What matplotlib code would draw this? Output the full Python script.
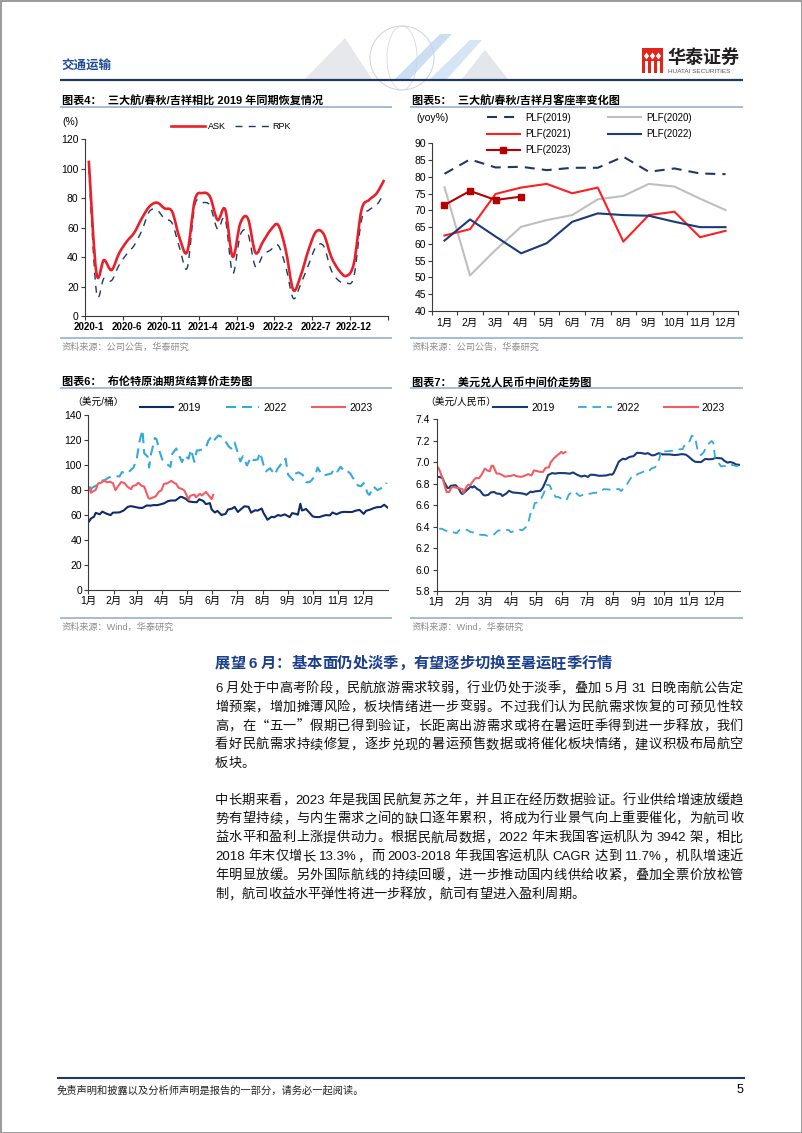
import re
import numpy as np
import pandas as pd
import matplotlib
matplotlib.use('Agg')
import matplotlib.pyplot as plt
from matplotlib.path import Path
from matplotlib.patches import PathPatch, Rectangle, Polygon, Circle, Ellipse
from matplotlib.lines import Line2D

W, H = 802, 1133
plt.rcParams['font.family'] = ['Liberation Sans', 'Noto Sans CJK SC']
CJK = ['Noto Sans CJK SC']

# ---------------- data ----------------
# chart 4: recovery vs 2019 (%), monthly 2020-1 .. 2023-4
c4_ticklabels = ['2020-1', '2020-6', '2020-11', '2021-4', '2021-9', '2022-2', '2022-7', '2022-12']
ask = [105.5, 29.4, 38, 31.2, 42.6, 50.5, 56.6, 66.3, 74.3, 77, 73.1, 70.9, 52.7, 43.7, 78.8, 83.5,
       81, 65.2, 72.4, 40.3, 63, 66.3, 43, 50.5, 58.4, 61.8, 44.8, 17.7, 27.8, 44.8, 57.3, 55.7,
       40.3, 31.2, 27.2, 35.8, 72, 78.8, 83.3, 92.4]
rpk = [101, 16.5, 25.6, 24, 34.6, 42, 48, 58, 71, 72, 66, 63, 46, 32.8, 75.4, 77,
       75, 59, 66, 29, 55, 56, 33.5, 41.4, 44.8, 48, 33.5, 12, 22, 34.6, 47, 47.5,
       31.2, 24, 22.2, 26.7, 65.2, 72, 75.4, 83.3]

# chart 5: passenger load factor by month
months = ['1月', '2月', '3月', '4月', '5月', '6月', '7月', '8月', '9月', '10月', '11月', '12月']
plf2019 = [80.9, 85.2, 82.8, 83.0, 82.0, 82.7, 82.7, 86.0, 81.5, 82.5, 81.0, 80.8]
plf2020 = [76.9, 50.6, 58.2, 65.1, 67.1, 68.6, 73.3, 74.3, 77.9, 77.1, 73.5, 70.1]
plf2021 = [62.5, 64.4, 74.9, 76.8, 77.9, 75.1, 76.8, 60.7, 68.6, 69.6, 62.0, 63.9]
plf2022 = [61.0, 67.3, 62.2, 57.2, 60.2, 66.6, 69.1, 68.6, 68.4, 66.6, 65.0, 65.0]
plf2023 = [71.6, 75.8, 73.1, 74.1]

# chart 6: Brent settlement (USD/bbl)
brent19_d = ['01-02', '01-04', '01-08', '01-10', '01-15', '01-18', '01-23', '01-28', '01-31', '02-05',
             '02-08', '02-13', '02-18', '02-22', '02-27', '03-04', '03-08', '03-13', '03-18', '03-21',
             '03-26', '03-29', '04-03', '04-08', '04-12', '04-17', '04-23', '04-25', '04-30', '05-03',
             '05-08', '05-13', '05-16', '05-21', '05-24', '05-29', '05-31', '06-04', '06-07', '06-12',
             '06-17', '06-20', '06-25', '06-28', '07-02', '07-05', '07-10', '07-15', '07-18', '07-23',
             '07-26', '07-31', '08-02', '08-07', '08-12', '08-15', '08-20', '08-23', '08-28', '09-03',
             '09-06', '09-11', '09-13', '09-16', '09-18', '09-23', '09-27', '10-01', '10-04', '10-09',
             '10-14', '10-17', '10-22', '10-25', '10-30', '11-04', '11-08', '11-13', '11-18', '11-22',
             '11-27', '12-02', '12-05', '12-10', '12-13', '12-18', '12-23', '12-27', '12-31']
brent19 = [54.9, 57.1, 58.7, 61.7, 60.6, 62.7, 61.1, 59.9, 61.9, 62.0,
           62.1, 63.6, 66.5, 67.1, 66.4, 65.7, 65.7, 67.6, 67.5, 67.9,
           67.9, 68.4, 69.3, 71.1, 71.6, 71.6, 74.5, 74.4, 72.8, 70.9,
           70.4, 70.2, 72.6, 71.2, 68.7, 69.5, 64.5, 62.0, 63.3, 60.0,
           60.9, 64.4, 65.1, 66.5, 62.4, 64.2, 67.0, 66.5, 61.9, 63.8,
           63.5, 65.2, 61.9, 56.2, 58.6, 58.2, 60.0, 59.3, 60.5, 58.3,
           61.5, 60.8, 60.2, 69.0, 63.6, 64.8, 61.9, 58.9, 58.4, 58.3,
           59.4, 59.9, 59.7, 62.0, 60.6, 62.1, 62.5, 62.4, 62.4, 63.4,
           64.1, 60.9, 63.4, 64.3, 65.2, 66.2, 66.4, 68.2, 66.0]
brent22_d = ['01-03', '01-06', '01-11', '01-14', '01-18', '01-21', '01-26', '01-31', '02-03', '02-08',
             '02-11', '02-15', '02-18', '02-23', '02-25', '03-01', '03-04', '03-08', '03-10', '03-14',
             '03-16', '03-18', '03-23', '03-25', '03-29', '04-01', '04-06', '04-11', '04-13', '04-18',
             '04-21', '04-25', '04-28', '05-03', '05-06', '05-10', '05-13', '05-17', '05-20', '05-24',
             '05-27', '05-31', '06-03', '06-08', '06-13', '06-16', '06-21', '06-24', '06-28', '07-01',
             '07-05', '07-08', '07-13', '07-18', '07-21', '07-26', '07-29', '08-02', '08-05', '08-10',
             '08-16', '08-19', '08-24', '08-26', '08-29', '09-01', '09-07', '09-09', '09-14', '09-19',
             '09-23', '09-27', '09-30', '10-04', '10-07', '10-12', '10-14', '10-19', '10-24', '10-27',
             '10-31', '11-04', '11-08', '11-11', '11-16', '11-21', '11-25', '11-29', '12-02', '12-07',
             '12-09', '12-14', '12-19', '12-22', '12-28', '12-30']
brent22 = [79.0, 82.0, 83.7, 86.1, 87.5, 87.9, 90.0, 91.2, 91.1, 90.8,
           94.4, 93.3, 93.5, 96.8, 97.9, 105.0, 118.1, 128.0, 109.3, 106.9,
           98.0, 107.9, 121.6, 120.7, 110.2, 104.4, 101.1, 98.5, 108.8, 113.2,
           108.3, 102.3, 107.6, 105.0, 112.4, 102.5, 111.6, 111.9, 112.6, 113.6,
           119.4, 122.8, 119.7, 123.6, 122.3, 119.8, 114.7, 113.1, 118.0, 111.6,
           102.8, 107.0, 99.6, 106.3, 103.9, 104.4, 110.0, 100.5, 94.9, 97.4,
           92.3, 96.7, 101.2, 101.0, 105.1, 92.4, 88.0, 92.8, 94.1, 92.0,
           86.2, 86.3, 88.0, 91.8, 97.9, 92.5, 91.6, 92.4, 93.3, 97.0,
           94.8, 98.6, 95.4, 96.0, 92.9, 87.5, 83.6, 83.0, 85.6, 77.2,
           76.1, 82.7, 79.8, 81.0, 83.3, 85.9]
brent23_d = ['01-03', '01-04', '01-06', '01-10', '01-13', '01-17', '01-20', '01-24', '01-27', '01-31',
             '02-03', '02-07', '02-10', '02-14', '02-17', '02-22', '02-24', '02-28', '03-03', '03-07',
             '03-10', '03-15', '03-17', '03-20', '03-24', '03-28', '03-31', '04-03', '04-06', '04-12',
             '04-14', '04-18', '04-21', '04-25', '04-28', '05-03', '05-05', '05-10', '05-12', '05-17',
             '05-19', '05-24', '05-26', '05-30', '05-31', '06-02']
brent23 = [82.1, 77.8, 78.6, 80.1, 85.3, 85.9, 87.6, 86.1, 86.7, 85.5,
           79.9, 83.7, 86.4, 85.6, 83.0, 80.6, 83.2, 83.9, 85.8, 83.3,
           82.8, 73.7, 73.0, 73.8, 75.0, 78.7, 79.8, 84.9, 85.1, 87.3,
           86.3, 84.8, 81.7, 80.8, 79.5, 72.3, 75.3, 76.4, 74.2, 77.0,
           75.6, 78.4, 77.0, 73.5, 72.7, 76.1]

# chart 7: USD/CNY central parity
fx19_d = ['01-02', '01-04', '01-08', '01-10', '01-14', '01-16', '01-18', '01-22', '01-24', '01-28',
          '01-30', '02-01', '02-11', '02-13', '02-15', '02-19', '02-22', '02-26', '02-28', '03-04',
          '03-07', '03-11', '03-14', '03-19', '03-21', '03-26', '03-29', '04-02', '04-04', '04-09',
          '04-12', '04-16', '04-19', '04-24', '04-26', '04-30', '05-06', '05-09', '05-13', '05-15',
          '05-20', '05-23', '05-28', '05-31', '06-05', '06-10', '06-14', '06-19', '06-24', '06-28',
          '07-02', '07-05', '07-10', '07-15', '07-19', '07-24', '07-29', '07-31', '08-02', '08-06',
          '08-08', '08-13', '08-16', '08-21', '08-26', '08-30', '09-04', '09-09', '09-12', '09-17',
          '09-20', '09-25', '09-30', '10-08', '10-14', '10-18', '10-23', '10-28', '10-31', '11-05',
          '11-08', '11-12', '11-15', '11-20', '11-25', '11-29', '12-03', '12-06', '12-10', '12-13',
          '12-17', '12-20', '12-24', '12-27', '12-31']
fx19 = [6.863, 6.863, 6.853, 6.816, 6.760, 6.762, 6.780, 6.785, 6.785, 6.747,
        6.717, 6.703, 6.774, 6.764, 6.777, 6.749, 6.737, 6.696, 6.690, 6.696,
        6.718, 6.723, 6.709, 6.704, 6.685, 6.710, 6.734, 6.719, 6.717, 6.714,
        6.711, 6.706, 6.697, 6.726, 6.721, 6.729, 6.734, 6.767, 6.837, 6.880,
        6.899, 6.894, 6.899, 6.899, 6.898, 6.893, 6.905, 6.883, 6.867, 6.875,
        6.863, 6.884, 6.882, 6.874, 6.874, 6.877, 6.887, 6.884, 6.900, 6.968,
        7.004, 7.033, 7.027, 7.049, 7.057, 7.088, 7.086, 7.078, 7.085, 7.064,
        7.066, 7.084, 7.073, 7.073, 7.067, 7.069, 7.076, 7.070, 7.053, 7.019,
        7.004, 7.002, 7.001, 7.030, 7.027, 7.030, 7.041, 7.038, 7.036, 7.014,
        6.996, 7.002, 6.994, 6.980, 6.976]
fx22_d = ['01-04', '01-07', '01-12', '01-17', '01-20', '01-25', '01-28', '02-07', '02-10', '02-15',
          '02-18', '02-23', '02-28', '03-03', '03-08', '03-11', '03-16', '03-21', '03-24', '03-29',
          '03-31', '04-06', '04-11', '04-14', '04-19', '04-21', '04-25', '04-27', '04-29', '05-05',
          '05-10', '05-13', '05-17', '05-19', '05-24', '05-27', '05-31', '06-06', '06-09', '06-14',
          '06-17', '06-22', '06-27', '06-30', '07-05', '07-08', '07-13', '07-18', '07-21', '07-26',
          '07-29', '08-03', '08-08', '08-11', '08-15', '08-18', '08-23', '08-26', '08-31', '09-05',
          '09-08', '09-13', '09-16', '09-21', '09-26', '09-28', '09-30', '10-10', '10-14', '10-19',
          '10-24', '10-27', '10-31', '11-02', '11-04', '11-08', '11-11', '11-15', '11-18', '11-23',
          '11-28', '11-30', '12-02', '12-06', '12-09', '12-14', '12-19', '12-22', '12-27', '12-30']
fx22 = [6.379, 6.381, 6.362, 6.354, 6.350, 6.338, 6.367, 6.369, 6.352, 6.344,
        6.337, 6.323, 6.322, 6.314, 6.322, 6.327, 6.364, 6.366, 6.370, 6.368,
        6.348, 6.362, 6.371, 6.365, 6.400, 6.428, 6.559, 6.560, 6.618, 6.633,
        6.713, 6.790, 6.785, 6.749, 6.677, 6.677, 6.661, 6.643, 6.699, 6.728,
        6.719, 6.685, 6.698, 6.711, 6.706, 6.714, 6.716, 6.732, 6.749, 6.747,
        6.744, 6.746, 6.751, 6.731, 6.773, 6.795, 6.857, 6.854, 6.891, 6.905,
        6.918, 6.912, 6.940, 6.954, 7.030, 7.111, 7.100, 7.105, 7.110, 7.119,
        7.123, 7.170, 7.177, 7.208, 7.247, 7.236, 7.109, 7.066, 7.090, 7.163,
        7.199, 7.177, 7.038, 6.998, 6.962, 6.964, 6.980, 6.976, 6.965, 6.965]
fx23_d = ['01-03', '01-05', '01-09', '01-11', '01-13', '01-16', '01-18', '01-20', '01-30', '02-01',
          '02-02', '02-06', '02-08', '02-10', '02-13', '02-15', '02-17', '02-21', '02-24', '02-28',
          '03-03', '03-06', '03-08', '03-10', '03-14', '03-17', '03-21', '03-24', '03-29', '03-31',
          '04-04', '04-07', '04-12', '04-14', '04-19', '04-21', '04-25', '04-28', '05-05', '05-09',
          '05-12', '05-16', '05-18', '05-22', '05-25', '05-29', '05-31', '06-02', '06-05']
fx23 = [6.948, 6.913, 6.827, 6.768, 6.722, 6.722, 6.754, 6.770, 6.754, 6.749,
        6.713, 6.773, 6.791, 6.784, 6.815, 6.837, 6.852, 6.852, 6.884, 6.940,
        6.923, 6.916, 6.967, 6.966, 6.895, 6.894, 6.880, 6.866, 6.871, 6.872,
        6.881, 6.870, 6.864, 6.866, 6.881, 6.889, 6.876, 6.924, 6.911, 6.910,
        6.948, 6.952, 6.997, 7.036, 7.058, 7.082, 7.097, 7.082, 7.096]

# text block
section_title = '展望 6 月：基本面仍处淡季，有望逐步切换至暑运旺季行情'
para1 = ['6 月处于中高考阶段，民航旅游需求较弱，行业仍处于淡季，叠加 5 月 31 日晚南航公告定',
         '增预案，增加摊薄风险，板块情绪进一步变弱。不过我们认为民航需求恢复的可预见性较',
         '高，在“五一”假期已得到验证，长距离出游需求或将在暑运旺季得到进一步释放，我们',
         '看好民航需求持续修复，逐步兑现的暑运预售数据或将催化板块情绪，建议积极布局航空',
         '板块。']
para2 = ['中长期来看，2023 年是我国民航复苏之年，并且正在经历数据验证。行业供给增速放缓趋',
         '势有望持续，与内生需求之间的缺口逐年累积，将成为行业景气向上重要催化，为航司收',
         '益水平和盈利上涨提供动力。根据民航局数据，2022 年末我国客运机队为 3942 架，相比',
         '2018 年末仅增长 13.3%，而 2003-2018 年我国客运机队 CAGR 达到 11.7%，机队增速近',
         '年明显放缓。另外国际航线的持续回暖，进一步推动国内线供给收紧，叠加全票价放松管',
         '制，航司收益水平弹性将进一步释放，航司有望进入盈利周期。']

NAVY = '#1F3864'
SRC_GRAY = '#8C8C8C'
RULE = '#8FA8CC'


def frame(x0, y0, x1, y1):
    return [x0 / W, 1 - y1 / H, (x1 - x0) / W, (y1 - y0) / H]


def doy(year, dates):
    return (pd.to_datetime([f'{year}-{d}' for d in dates]).dayofyear - 1).to_numpy()


def smooth_path(x, y):
    # Catmull-Rom through the data points, as cubic Bezier segments
    x = np.asarray(x, float)
    y = np.asarray(y, float)
    n = len(x)
    verts = [(x[0], y[0])]
    codes = [Path.MOVETO]
    for i in range(n - 1):
        a = max(i - 1, 0)
        d = min(i + 2, n - 1)
        verts += [(x[i] + (x[i + 1] - x[a]) / 6, y[i] + (y[i + 1] - y[a]) / 6),
                  (x[i + 1] - (x[d] - x[i]) / 6, y[i + 1] - (y[d] - y[i]) / 6),
                  (x[i + 1], y[i + 1])]
        codes += [Path.CURVE4] * 3
    return Path(verts, codes)


def style_axes(ax, ypad, xpad):
    for s in ('top', 'right'):
        ax.spines[s].set_visible(False)
    for s in ('left', 'bottom'):
        ax.spines[s].set_color('#3a3a3a')
        ax.spines[s].set_linewidth(0.8)
    ax.set_facecolor('none')
    ax.tick_params(which='both', direction='out', length=3, width=0.8, color='#3a3a3a',
                   labelsize=7.5, labelcolor='black')
    ax.tick_params(axis='y', pad=ypad)
    ax.tick_params(axis='x', pad=xpad)


def legend_at(ax, handles, labels, x, y, size, hl, tp, cs, ncol, ls=0.5):
    ax.legend(handles, labels, loc='center left', bbox_to_anchor=(x / W, 1 - y / H),
              bbox_transform=fig.transFigure, frameon=False, borderpad=0, borderaxespad=0,
              fontsize=size, handlelength=hl, handletextpad=tp, columnspacing=cs,
              ncol=ncol, labelspacing=ls)


fig = plt.figure(figsize=(W / 100, H / 100), dpi=100)
page = fig.add_axes([0, 0, 1, 1])
page.set_xlim(0, W)
page.set_ylim(H, 0)
page.axis('off')
renderer = fig.canvas.get_renderer()

# ---------------- page furniture ----------------
page.add_patch(Rectangle((0.5, 0.5), W - 1, H - 1, fill=False, ec='#8a8a8a', lw=1.2))
# faint header watermark
page.add_patch(Polygon([(305, 79), (345, 38), (372, 79)], closed=True, fc='#e6e8ec', ec='none'))
page.add_patch(Circle((402, 58), 32, fill=False, ec='#cdd2d9', lw=0.7))
page.add_patch(Ellipse((402, 58), 30, 64, fill=False, ec='#d6dae0', lw=0.6))
page.add_patch(Polygon([(395, 79), (440, 34), (452, 34), (410, 79)], closed=True, fc='#bcd5ee', ec='none', alpha=0.75))
page.add_patch(Polygon([(430, 79), (470, 40), (482, 40), (447, 79)], closed=True, fc='#c9ddf2', ec='none', alpha=0.75))
page.add_patch(Polygon([(462, 79), (485, 50), (508, 79)], closed=True, fc='#e3e6ea', ec='none'))
page.plot([60, 743], [79.5, 79.5], color=NAVY, lw=1.6, solid_capstyle='butt')
page.text(61, 66, '交通运输', fontsize=9, color='#1d4a99', weight='bold', va='center', family=CJK)
# logo
page.add_patch(Rectangle((642, 48), 21, 25, fc='#e3241b', ec='none'))
for cx in (646.5, 652.5, 658.5):
    page.add_patch(Polygon([(cx - 2.6, 56), (cx, 52.5), (cx + 2.6, 56), (cx, 59.5)], closed=True, fc='white', ec='none'))
    page.add_patch(Rectangle((cx - 1.1, 61), 2.2, 12, fc='white', ec='none'))
page.text(668, 57.5, '华泰证券', fontsize=13, weight='bold', color='#231f20', va='center', family=CJK)
page.text(668.5, 71.5, 'HUATAI SECURITIES', fontsize=4.6, color='#555555', va='center')

# chart headers / footers
for x0, x1, y, title in [(60, 392, 101.5, '图表4：  三大航/春秋/吉祥相比 2019 年同期恢复情况'),
                         (410, 743, 101.5, '图表5：  三大航/春秋/吉祥月客座率变化图'),
                         (60, 392, 381.7, '图表6：  布伦特原油期货结算价走势图'),
                         (410, 743, 381.7, '图表7：  美元兑人民币中间价走势图')]:
    page.text(x0 + 1.5, y, title, fontsize=8, weight='bold', va='center', color='black')
    page.plot([x0, x1], [y + 5.8, y + 5.8], color=RULE, lw=1.1, solid_capstyle='butt')
for x0, x1, y, src in [(60, 392, 338, '资料来源：公司公告，华泰研究'),
                       (410, 743, 338, '资料来源：公司公告，华泰研究'),
                       (60, 392, 618.3, '资料来源：Wind，华泰研究'),
                       (410, 743, 618.3, '资料来源：Wind，华泰研究')]:
    page.plot([x0, x1], [y, y], color=RULE, lw=1.1, solid_capstyle='butt')
    page.text(x0 + 1.5, y + 9, src, fontsize=6.6, color=SRC_GRAY, va='center')

page.text(62, 121.7, '(%)', fontsize=7.5, va='center')
page.text(416.5, 118, '(yoy%)', fontsize=7.5, va='center')
page.text(72, 401.7, '（美元/桶）', fontsize=7, va='center')
page.text(425, 401.7, '（美元/人民币）', fontsize=7, va='center')

# ---------------- chart 4 ----------------
ax4 = fig.add_axes(frame(85, 139.3, 388, 316))
x4 = np.arange(len(ask))
ax4.add_patch(PathPatch(smooth_path(x4, rpk), fill=False, ec=NAVY, lw=1.0, ls=(0, (5, 4.5))))
ax4.add_patch(PathPatch(smooth_path(x4, ask), fill=False, ec='#e8202a', lw=1.9))
ax4.set_xlim(-0.5, len(ask) - 0.5)
ax4.set_ylim(0, 120)
ax4.set_yticks(range(0, 121, 20))
ax4.set_xticks(x4[::5])
ax4.set_xticklabels(c4_ticklabels, fontweight='bold')
ax4.set_xticks(list(x4[::5] - 0.5) + [len(ask) - 0.5], minor=True)
style_axes(ax4, 1.6, 2.2)
ax4.tick_params(axis='x', which='major', length=0, pad=4.4, labelsize=7)
legend_at(ax4, [Line2D([], [], color='#e8202a', lw=1.9), Line2D([], [], color=NAVY, lw=1.0, ls=(0, (5, 4.5)))],
          ['ASK', 'RPK'], 171, 126.7, 6.5, 3.8, 0.35, 0.9, 2)

# ---------------- chart 5 ----------------
ax5 = fig.add_axes(frame(431.7, 143.3, 738.3, 311))
x5 = np.arange(len(months))
l19, = ax5.plot(x5, plf2019, color=NAVY, lw=1.5, ls=(0, (4.8, 3.4)))
l20, = ax5.plot(x5, plf2020, color='#bfbfbf', lw=1.5)
l21, = ax5.plot(x5, plf2021, color='#ff1f1f', lw=1.5)
l22, = ax5.plot(x5, plf2022, color='#1b3a7a', lw=1.5)
l23, = ax5.plot(x5[:len(plf2023)], plf2023, color='#b40000', lw=1.5, marker='s', markersize=5)
ax5.set_xlim(-0.5, 11.5)
ax5.set_ylim(40, 90)
ax5.set_yticks(range(40, 91, 5))
ax5.set_xticks(x5)
ax5.set_xticklabels(months)
ax5.set_xticks(np.arange(-0.5, 12, 1), minor=True)
style_axes(ax5, 1.2, 2.0)
ax5.tick_params(axis='x', which='major', length=0, pad=5)
legend_at(ax5, [l19, l21, l23, l20, l22], ['PLF(2019)', 'PLF(2021)', 'PLF(2023)', 'PLF(2020)', 'PLF(2022)'],
          486.7, 134, 7, 3.45, 0.5, 3.8, 2, ls=0.65)

# ---------------- chart 6 ----------------
month_starts = doy(2019, ['01-01', '02-01', '03-01', '04-01', '05-01', '06-01', '07-01', '08-01',
                          '09-01', '10-01', '11-01', '12-01'])
ax6 = fig.add_axes(frame(88.3, 415, 388.3, 590))
b19, = ax6.plot(doy(2019, brent19_d), brent19, color='#0f2a6b', lw=1.5)
b22, = ax6.plot(doy(2022, brent22_d), brent22, color='#33a9dd', lw=1.5, ls=(0, (4.8, 2.9)))
b23, = ax6.plot(doy(2023, brent23_d), brent23, color='#f25c62', lw=1.5)
ax6.set_xlim(0, 365)
ax6.set_ylim(0, 140)
ax6.set_yticks(range(0, 141, 20))
ax6.set_xticks(month_starts)
ax6.set_xticklabels(months)
style_axes(ax6, 1.6, 1.6)
legend_at(ax6, [b19, b22, b23], ['2019', '2022', '2023'], 140, 407.7, 7.5, 3.2, 0.4, 2.4, 3)

# ---------------- chart 7 ----------------
ax7 = fig.add_axes(frame(436.7, 419.3, 740, 591))
f19, = ax7.plot(doy(2019, fx19_d), fx19, color='#173a7a', lw=1.5)
f22, = ax7.plot(doy(2022, fx22_d), fx22, color='#33a9dd', lw=1.3, ls=(0, (4.8, 3.2)))
f23, = ax7.plot(doy(2023, fx23_d), fx23, color='#f25c62', lw=1.5)
ax7.set_xlim(0, 365)
ax7.set_ylim(5.8, 7.4)
ax7.set_yticks(np.arange(5.8, 7.41, 0.2))
ax7.yaxis.set_major_formatter(matplotlib.ticker.FormatStrFormatter('%.1f'))
ax7.set_xticks(month_starts)
ax7.set_xticklabels(months)
style_axes(ax7, 1.6, 1.2)
legend_at(ax7, [f19, f22, f23], ['2019', '2022', '2023'], 493, 407.7, 7.5, 3.25, 0.4, 2.3, 3)


# ---------------- text block ----------------
def put_line(s, x0, x1, yc, size, justify, **kw):
    em = size * 100 / 72
    base = yc + 0.38 * em
    items = []
    for tok in re.findall(r'[\x21-\x7e]+|\s+|.', s):
        if tok.isspace():
            items.append((None, 0.22 * em))
        elif ord(tok[0]) < 128:
            t = page.text(0, base, tok, fontsize=size, va='baseline', ha='left', **kw)
            items.append((t, t.get_window_extent(renderer).width))
        else:
            t = page.text(0, base, tok, fontsize=size, va='baseline', ha='left', family=CJK, **kw)
            items.append((t, em))
    total = sum(w for _, w in items)
    gap = (x1 - x0 - total) / (len(items) - 1) if justify and len(items) > 1 else 0
    x = x0
    for t, w in items:
        if t is not None:
            t.set_x(x)
        x += w + gap


put_line(section_title, 215, 743, 662, 11, False, color='#1a3f8c', weight='bold')
for i, s in enumerate(para1):
    put_line(s, 215, 743, 687 + i * 18.75, 9.5, i < len(para1) - 1, color='#111111')
for i, s in enumerate(para2):
    put_line(s, 215, 743, 798.5 + i * 18.9, 9.5, i < len(para2) - 1, color='#111111')

# footer
page.plot([57, 745], [1078, 1078], color=NAVY, lw=1.5, solid_capstyle='butt')
page.text(57, 1090, '免责声明和披露以及分析师声明是报告的一部分，请务必一起阅读。', fontsize=7.4,
          color='#222222', va='center', family=CJK)
page.text(743, 1090, '5', fontsize=9, ha='right', va='center')

fig.savefig('out.png', dpi=100)
